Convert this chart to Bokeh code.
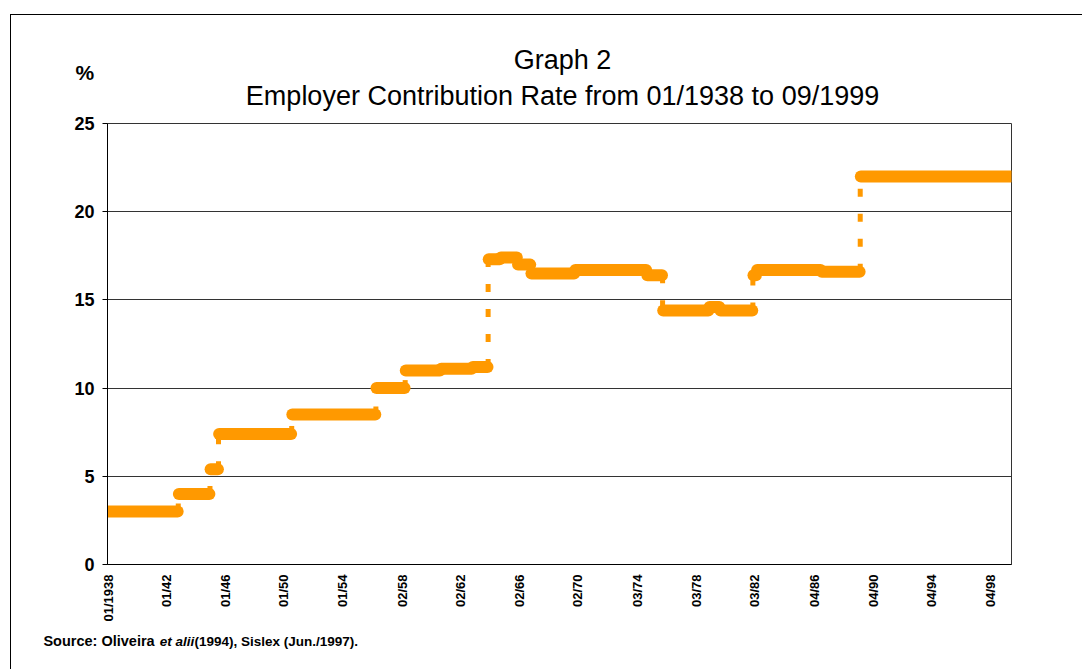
import math
from bokeh.plotting import figure
from bokeh.models import Range1d, FixedTicker, Label, ColumnDataSource
from bokeh.embed import file_html
from bokeh.resources import INLINE

# ---- data ----
period_start = ["01/1938", "11/1942", "01/1945", "08/1945", "08/1950", "05/1956",
                "05/1958", "10/1960", "12/1962", "01/1964", "11/1964", "01/1966",
                "12/1966", "12/1969", "11/1974", "12/1975", "02/1979", "11/1979",
                "02/1982", "05/1982", "10/1986", "06/1989"]
rate = [3.0, 4.0, 5.4, 7.4, 8.5, 10.0,
        11.0, 11.1, 11.2, 17.3, 17.4, 17.0,
        16.5, 16.7, 16.4, 14.4, 14.6, 14.4,
        16.4, 16.7, 16.6, 22.0]
series_first = "01/1938"
series_last = "09/1999"
tick_dates = ["01/1938", "01/1942", "01/1946", "01/1950", "01/1954", "02/1958",
              "02/1962", "02/1966", "02/1970", "03/1974", "03/1978", "03/1982",
              "04/1986", "04/1990", "04/1994", "04/1998"]
tick_labels = ["01/1938", "01/42", "01/46", "01/50", "01/54", "02/58",
               "02/62", "02/66", "02/70", "03/74", "03/78", "03/82",
               "04/86", "04/90", "04/94", "04/98"]
y_ticks = [0, 5, 10, 15, 20, 25]

FONT = "Liberation Sans"
ORANGE = "#FF9900"


def month_index(s):
    m, y = s.split("/")
    y0 = int(series_first.split("/")[1])
    m0 = int(series_first.split("/")[0])
    return (int(y) - y0) * 12 + int(m) - m0


starts = [month_index(s) for s in period_start]
last = month_index(series_last)
ends = [s - 1 for s in starts[1:]] + [last]

seg = ColumnDataSource(dict(x0=starts, x1=ends, y=rate))
jump = ColumnDataSource(dict(
    x=[s - 0.5 for s in starts[1:]],
    y0=rate[:-1],
    y1=rate[1:],
))

p = figure(width=1072, height=655, output_backend="svg", toolbar_location=None,
           x_range=Range1d(-0.5, last + 0.5), y_range=Range1d(0, 25),
           min_border_left=96, min_border_right=72, min_border_top=108,
           min_border_bottom=106)
p.margin = (14, 0, 0, 10)
p.styles = {"border-left": "1px solid black", "border-top": "1px solid black"}
p.background_fill_color = "white"
p.border_fill_color = "white"
p.outline_line_color = "#333333"
p.outline_line_width = 1

# vertical dashed connectors
p.segment(x0="x", y0="y0", x1="x", y1="y1", source=jump, line_color=ORANGE,
          line_width=5, line_dash="8 17", line_cap="butt")
# thick horizontal levels
p.segment(x0="x0", y0="y", x1="x1", y1="y", source=seg, line_color=ORANGE,
          line_width=12, line_cap="round")

# axes
p.xaxis.ticker = FixedTicker(ticks=[month_index(d) for d in tick_dates])
p.xaxis.major_label_overrides = {month_index(d): l for d, l in zip(tick_dates, tick_labels)}
p.xaxis.major_label_orientation = math.pi / 2
p.xaxis.major_tick_out = 0
p.xaxis.major_tick_in = 0
p.xaxis.minor_tick_out = 0
p.xaxis.minor_tick_in = 0
p.xaxis.major_label_standoff = 10
p.xaxis.major_label_text_font = FONT
p.xaxis.major_label_text_font_style = "bold"
p.xaxis.major_label_text_font_size = "13px"
p.xaxis.major_label_text_color = "black"
p.xaxis.axis_line_color = "black"

p.yaxis.ticker = FixedTicker(ticks=y_ticks)
p.yaxis.major_tick_out = 5
p.yaxis.major_tick_in = 0
p.yaxis.minor_tick_out = 0
p.yaxis.minor_tick_in = 0
p.yaxis.major_tick_line_color = "black"
p.yaxis.major_label_standoff = 8
p.yaxis.major_label_text_font = FONT
p.yaxis.major_label_text_font_style = "bold"
p.yaxis.major_label_text_font_size = "18px"
p.yaxis.major_label_text_color = "black"
p.yaxis.axis_line_color = "black"

p.xgrid.grid_line_color = None
p.ygrid.ticker = FixedTicker(ticks=y_ticks)
p.ygrid.grid_line_color = "#333333"
p.ygrid.grid_line_width = 1

# titles and notes (placed in side panels so they are not clipped to the frame)
common = dict(text_font=FONT, text_color="black", text_baseline="alphabetic")
p.add_layout(Label(x=372.5, y=28.62, text="Graph 2", text_font_size="27px",
                   text_align="center", **common), "above")
p.add_layout(Label(x=372.5, y=26.57,
                   text="Employer Contribution Rate from 01/1938 to 09/1999",
                   text_font_size="27px", text_align="center", **common), "above")
p.add_layout(Label(x=-26.8, y=27.88, text="%", text_font_size="21px",
                   text_font_style="bold", text_align="left", **common), "above")
p.add_layout(Label(x=-53.0, y=-4.35, text="Source: Oliveira", text_font_size="14.5px",
                   text_font_style="bold", text_align="left", **common), "below")
p.add_layout(Label(x=42.3, y=-4.35, text="et alii", text_font_size="13.5px",
                   text_font_style="bold italic", text_align="left", **common), "below")
p.add_layout(Label(x=70.8, y=-4.35, text="(1994), Sislex (Jun./1997).",
                   text_font_size="13.5px", text_font_style="bold",
                   text_align="left", **common), "below")

open("out.html", "w").write(file_html(p, INLINE))
